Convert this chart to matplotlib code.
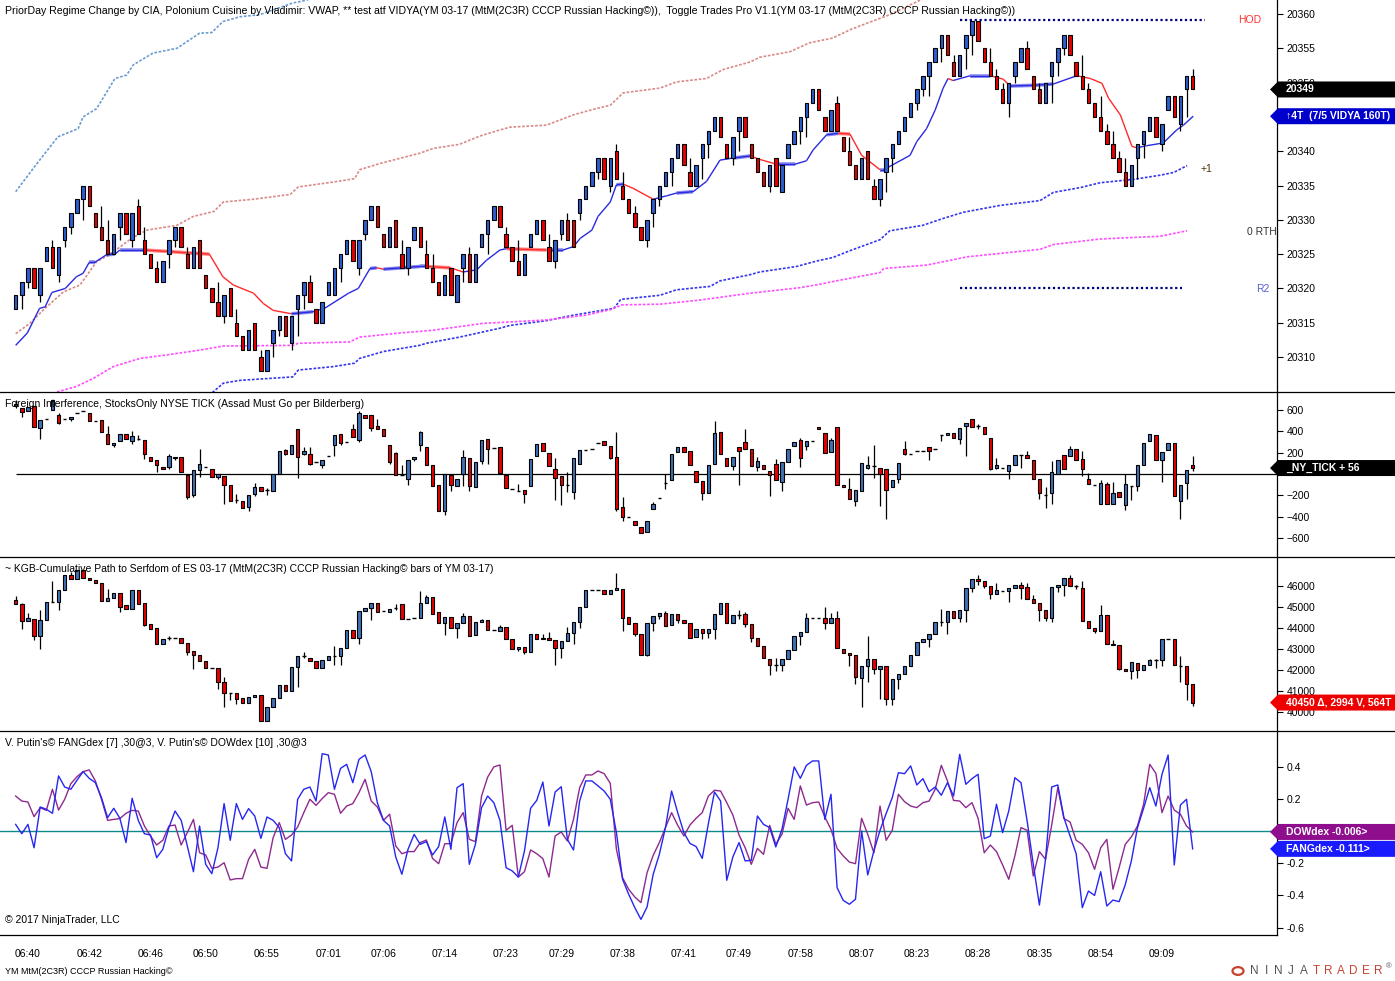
import numpy as np
import matplotlib
matplotlib.use("Agg")
import matplotlib.pyplot as plt
from matplotlib.collections import LineCollection
from matplotlib.patches import Polygon, Circle
from matplotlib.lines import Line2D

plt.rcParams['font.family'] = ['Liberation Sans', 'DejaVu Sans']

W, H = 1395, 981
AX_R = 1277          # right edge of the plot area (px)
X0, X1 = -2.556, 205.76

# ---------------- price panel (YM 03-17) ----------------
p_open = [
    20317, 20319, 20321, 20323, 20319, 20324, 20326, 20322, 20327, 20329,
    20331, 20333, 20335, 20331, 20329, 20327, 20325, 20329, 20331, 20327,
    20332, 20327, 20325, 20323, 20321, 20325, 20327, 20329, 20325, 20323,
    20327, 20322, 20320, 20318, 20316, 20320, 20315, 20313, 20311, 20315,
    20310, 20308, 20312, 20314, 20316, 20312, 20317, 20319, 20321, 20317,
    20315, 20319, 20319, 20323, 20325, 20327, 20323, 20328, 20330, 20332,
    20328, 20326, 20330, 20325, 20323, 20327, 20329, 20325, 20323, 20321,
    20319, 20323, 20318, 20323, 20325, 20321, 20326, 20328, 20330, 20332,
    20328, 20326, 20324, 20322, 20326, 20328, 20330, 20326, 20324, 20328,
    20330, 20330, 20331, 20333, 20335, 20337, 20339, 20335, 20340, 20335,
    20333, 20331, 20329, 20327, 20331, 20333, 20335, 20337, 20339, 20341,
    20337, 20335, 20339, 20341, 20343, 20345, 20341, 20339, 20343, 20345,
    20341, 20339, 20337, 20335, 20339, 20334, 20339, 20341, 20343, 20345,
    20347, 20349, 20345, 20343, 20347, 20342, 20340, 20338, 20336, 20340,
    20335, 20333, 20337, 20339, 20341, 20343, 20345, 20347, 20349, 20351,
    20353, 20355, 20357, 20353, 20351, 20355, 20357, 20359, 20355, 20353,
    20351, 20349, 20347, 20351, 20353, 20355, 20351, 20349, 20347, 20351,
    20353, 20355, 20357, 20353, 20351, 20349, 20347, 20345, 20343, 20341,
    20339, 20337, 20335, 20339, 20341, 20343, 20345, 20341, 20346, 20348,
    20344, 20349, 20351]
p_close = [
    20319, 20321, 20323, 20320, 20323, 20326, 20323, 20326, 20329, 20331,
    20333, 20335, 20332, 20329, 20327, 20325, 20328, 20331, 20328, 20331,
    20328, 20325, 20323, 20321, 20324, 20327, 20329, 20326, 20323, 20326,
    20323, 20320, 20318, 20316, 20319, 20316, 20313, 20311, 20314, 20311,
    20308, 20311, 20314, 20316, 20313, 20316, 20319, 20321, 20318, 20315,
    20318, 20321, 20323, 20325, 20327, 20324, 20327, 20330, 20332, 20329,
    20326, 20329, 20326, 20323, 20326, 20329, 20326, 20323, 20321, 20319,
    20322, 20319, 20322, 20325, 20321, 20325, 20328, 20330, 20332, 20329,
    20326, 20324, 20322, 20325, 20328, 20330, 20327, 20324, 20327, 20330,
    20327, 20326, 20333, 20335, 20337, 20339, 20336, 20339, 20336, 20333,
    20331, 20329, 20327, 20330, 20333, 20335, 20337, 20339, 20341, 20338,
    20335, 20338, 20341, 20343, 20345, 20342, 20339, 20342, 20345, 20342,
    20339, 20337, 20335, 20338, 20335, 20338, 20341, 20343, 20345, 20347,
    20349, 20346, 20343, 20346, 20343, 20340, 20338, 20336, 20339, 20336,
    20333, 20336, 20339, 20341, 20343, 20345, 20347, 20349, 20351, 20353,
    20355, 20357, 20354, 20351, 20354, 20357, 20359, 20356, 20353, 20351,
    20349, 20347, 20350, 20353, 20355, 20352, 20349, 20347, 20350, 20353,
    20355, 20357, 20354, 20351, 20349, 20347, 20345, 20343, 20341, 20339,
    20337, 20335, 20338, 20341, 20343, 20345, 20342, 20344, 20348, 20345,
    20348, 20351, 20349]
p_high = [
    20319, 20321, 20323, 20323, 20323, 20326, 20327, 20326, 20329, 20331,
    20333, 20335, 20335, 20331, 20332, 20330, 20328, 20331, 20331, 20331,
    20333, 20329, 20325, 20324, 20324, 20327, 20329, 20329, 20326, 20326,
    20327, 20322, 20320, 20321, 20319, 20320, 20317, 20313, 20314, 20315,
    20311, 20311, 20314, 20316, 20316, 20316, 20319, 20321, 20322, 20317,
    20318, 20321, 20323, 20325, 20327, 20327, 20327, 20330, 20332, 20332,
    20328, 20329, 20330, 20327, 20326, 20329, 20329, 20327, 20325, 20321,
    20322, 20323, 20322, 20325, 20326, 20325, 20328, 20330, 20332, 20332,
    20329, 20326, 20327, 20325, 20328, 20330, 20330, 20328, 20327, 20330,
    20331, 20330, 20333, 20335, 20337, 20339, 20339, 20339, 20341, 20337,
    20333, 20332, 20329, 20330, 20333, 20335, 20337, 20339, 20341, 20341,
    20339, 20338, 20341, 20343, 20345, 20345, 20341, 20342, 20345, 20345,
    20341, 20339, 20337, 20338, 20339, 20338, 20341, 20343, 20345, 20347,
    20349, 20349, 20345, 20346, 20348, 20342, 20342, 20338, 20339, 20340,
    20336, 20336, 20339, 20341, 20343, 20345, 20347, 20349, 20351, 20353,
    20355, 20357, 20357, 20354, 20354, 20357, 20359, 20359, 20355, 20355,
    20352, 20350, 20350, 20353, 20355, 20356, 20351, 20350, 20350, 20353,
    20355, 20357, 20357, 20353, 20354, 20350, 20347, 20348, 20344, 20343,
    20340, 20339, 20338, 20341, 20343, 20345, 20345, 20344, 20348, 20348,
    20348, 20351, 20352]
p_low = [
    20317, 20317, 20320, 20320, 20318, 20324, 20323, 20321, 20326, 20328,
    20331, 20330, 20332, 20329, 20327, 20325, 20325, 20327, 20328, 20326,
    20328, 20325, 20323, 20321, 20321, 20323, 20326, 20326, 20323, 20323,
    20323, 20320, 20318, 20316, 20315, 20316, 20313, 20311, 20311, 20311,
    20308, 20308, 20310, 20313, 20313, 20311, 20313, 20317, 20318, 20315,
    20315, 20319, 20319, 20321, 20325, 20324, 20322, 20327, 20330, 20329,
    20326, 20326, 20326, 20323, 20322, 20327, 20326, 20323, 20321, 20319,
    20319, 20319, 20318, 20321, 20321, 20321, 20326, 20325, 20330, 20329,
    20326, 20324, 20322, 20322, 20326, 20328, 20327, 20324, 20323, 20327,
    20327, 20326, 20330, 20333, 20335, 20336, 20336, 20334, 20336, 20333,
    20331, 20329, 20327, 20326, 20329, 20332, 20335, 20335, 20339, 20338,
    20335, 20335, 20336, 20339, 20343, 20342, 20339, 20338, 20340, 20342,
    20339, 20337, 20335, 20334, 20335, 20334, 20339, 20341, 20341, 20342,
    20347, 20346, 20343, 20343, 20343, 20340, 20338, 20336, 20336, 20336,
    20333, 20332, 20334, 20337, 20341, 20343, 20345, 20346, 20348, 20348,
    20353, 20353, 20354, 20351, 20351, 20352, 20354, 20356, 20353, 20351,
    20349, 20347, 20345, 20350, 20353, 20352, 20349, 20347, 20347, 20347,
    20351, 20354, 20354, 20351, 20349, 20347, 20345, 20343, 20341, 20339,
    20337, 20335, 20335, 20336, 20339, 20343, 20342, 20340, 20346, 20345,
    20343, 20345, 20349]

# VIDYA line vertices (bar, price)
vidya_pts = [
    (0, 20311.7), (1.9, 20313.5), (3.9, 20317.1), (4.8, 20317.3), (5.9, 20319.4),
    (8.1, 20320.0), (9.9, 20321.7), (11, 20322.2), (12, 20323.8), (12.9, 20323.8),
    (14.8, 20324.9), (16.2, 20325.0), (17, 20325.6), (20.8, 20325.6), (24.6, 20325.4),
    (27.8, 20325.2), (31.6, 20325.0), (33.8, 20321.7), (35.5, 20320.5), (38.8, 20319.3),
    (40.4, 20317.8), (42, 20316.8), (45, 20316.3), (48.5, 20316.6), (50.4, 20317.1),
    (54.3, 20319.3), (55.9, 20320.0), (57.8, 20322.9), (58.9, 20323.0), (60, 20322.8),
    (66, 20323.2), (67, 20323.2), (70.9, 20323.0), (73, 20322.4), (75.2, 20322.7),
    (76.8, 20324.1), (79, 20325.6), (80.1, 20325.8), (82.8, 20325.7), (86.6, 20325.6),
    (89.3, 20325.6), (91, 20326.1), (92.1, 20327.3), (94, 20328.5), (95, 20330.5),
    (97, 20332.6), (98, 20335.1), (99.1, 20335.2), (100.7, 20334.6), (104, 20333.0),
    (106.2, 20333.5), (107.8, 20333.9), (110.5, 20334.1), (112.7, 20335.6), (114.9, 20338.7),
    (117, 20339.0), (119.8, 20339.3), (121.4, 20338.8), (124.1, 20338.1), (127.1, 20338.1),
    (129, 20338.6), (130.1, 20340.2), (132.3, 20342.4), (134.2, 20342.6), (136.1, 20342.5),
    (138, 20339.4), (141, 20337.3), (141.6, 20337.3), (145.9, 20339.4), (147, 20341.4),
    (148.6, 20343.3), (150, 20346.0), (151.3, 20349.2), (152.1, 20350.6), (152.9, 20350.3),
    (155.7, 20351.0), (159, 20351.0), (161.1, 20350.5), (162.2, 20349.5), (166, 20349.6),
    (169.3, 20349.8), (173.1, 20351.0), (175.3, 20350.6), (177.2, 20349.9), (178.3, 20347.7),
    (180.2, 20345.3), (182.1, 20340.7), (182.9, 20340.5), (184.5, 20340.8), (187.2, 20341.2),
    (189.4, 20343.1), (190.5, 20343.8), (192.1, 20345.1)]

# VWAP bands (dotted)
band_upper3 = [
    (0, 20334.1), (3.9, 20338.7), (6.9, 20342.1), (10.2, 20343.3), (11, 20345.0),
    (13.2, 20346.2), (16.2, 20350.6), (18.1, 20351.1), (19.2, 20352.6), (22.4, 20354.3),
    (26.3, 20355.0), (30, 20357.2), (32, 20357.3), (33.8, 20358.9), (36.6, 20359.6),
    (39.8, 20359.9), (45.2, 20361.6), (47.4, 20362.0), (50, 20363.0)]
band_upper2 = [
    (0, 20313.4), (2.3, 20314.9), (4.8, 20317.1), (7.8, 20319.5), (10.5, 20320.5),
    (13.2, 20323.9), (15.3, 20324.9), (18.9, 20327.3), (21.4, 20328.5), (26.3, 20329.2),
    (29, 20330.5), (32.3, 20331.2), (33.9, 20332.6), (38.8, 20333.0), (44.8, 20333.7),
    (46.1, 20334.8), (51.8, 20335.5), (55.3, 20336.0), (56.1, 20337.3), (59.4, 20338.2),
    (65.9, 20339.7), (68.1, 20340.4), (72.4, 20341.0), (75.7, 20342.2), (79, 20343.1),
    (80.6, 20343.5), (86.6, 20343.8), (91, 20345.3), (94.2, 20346.1), (97, 20346.7),
    (99.1, 20348.5), (105.1, 20349.2), (107.8, 20350.1), (112.7, 20350.6), (115.4, 20351.9),
    (119.8, 20353.0), (121.4, 20353.7), (126.3, 20354.5), (129.5, 20355.8), (133.3, 20356.5),
    (136.1, 20357.7), (139.9, 20359.0), (142.6, 20359.9), (147.5, 20362.0), (150, 20363.0)]
band_vwap = [
    (31, 20304.0), (32.2, 20304.9), (33.9, 20306.2), (36.6, 20306.6), (45.2, 20307.1),
    (46.1, 20308.1), (51.8, 20308.6), (55.3, 20309.1), (56.1, 20309.8), (60, 20310.8),
    (65.9, 20311.7), (67, 20312.0), (72.4, 20312.9), (79, 20314.2), (80.6, 20314.6),
    (86.6, 20315.3), (91, 20316.1), (97.6, 20317.1), (98.7, 20318.4), (105.1, 20319.0),
    (107.8, 20319.8), (113.3, 20320.3), (114.9, 20321.1), (119.8, 20322.0), (121.4, 20322.4),
    (127.4, 20323.2), (130.7, 20324.0), (133.3, 20324.5), (136.1, 20325.5), (141, 20327.1),
    (142.6, 20328.4), (148, 20329.2), (151.3, 20330.2), (154.6, 20331.1), (160.6, 20332.1),
    (167.1, 20332.8), (169.3, 20334.0), (173.7, 20334.7), (176.9, 20335.4), (182.4, 20335.9),
    (186.7, 20336.5), (188.9, 20336.9), (191.1, 20337.9)]
band_lower = [
    (5.5, 20304.3), (6.7, 20304.9), (9.9, 20305.7), (12.7, 20306.9), (15.9, 20308.6),
    (20.3, 20309.8), (24.6, 20310.3), (30, 20311.0), (33.9, 20311.6), (45.2, 20311.7),
    (46.1, 20312.0), (54.5, 20312.2), (56.1, 20312.9), (62.7, 20313.5), (68.1, 20313.9),
    (76.2, 20314.9), (86.6, 20315.4), (93, 20316.1), (97, 20316.9), (98.9, 20317.6),
    (105.1, 20317.7), (111.6, 20318.3), (119.8, 20319.3), (127.9, 20320.1), (131.2, 20320.6),
    (133.3, 20321.0), (141, 20322.3), (141.6, 20322.9), (148.6, 20323.4), (155.2, 20324.6),
    (167.1, 20325.7), (169.3, 20326.4), (176.9, 20327.2), (186.7, 20327.6), (191.1, 20328.4)]

hod_level, hod_span = 20359.1, (154, 194)
r2_level, r2_span = 20320.0, (154, 190.3)

# ---------------- NYSE TICK panel ----------------
t_open = [
    640, 619, 588, 638, 431, 512, 597, 556, 519, 512,
    575, 591, 575, 497, 503, 378, 269, 306, 378, 309,
    331, 316, 159, 128, 66, 66, 150, 159, -6, -200,
    34, 66, 44, -28, -22, -100, -247, -253, -309, -184,
    -122, -153, -162, 3, 222, 191, 425, 191, 191, 112,
    88, 169, 275, 378, 300, 425, 316, 556, 550, 450,
    425, 269, 197, -6, -50, 144, 269, 253, 81, -106,
    -347, -12, -112, 3, 150, -122, 119, 325, 244, 253,
    -6, -137, -159, -153, -116, 166, 291, 200, 44, -19,
    -100, -169, 91, 222, 231, 291, 306, 263, 156, -309,
    -406, -444, -497, -544, -331, -225, -81, -59, 203, 253,
    213, 25, -69, -178, 97, 394, 150, 72, 253, 300,
    238, 66, 88, 25, 97, -75, 112, 259, 316, 259,
    309, 441, 384, 203, 441, -100, -137, -256, -159, 59,
    72, 59, 50, -122, -44, 231, 188, 212, 219, 253,
    231, 363, 369, 388, 325, 447, 519, 447, 441, 341,
    59, 53, 25, 81, 175, 178, 128, -44, -194, -178,
    3, 181, 169, 231, 138, -50, -106, -284, -91, -278,
    -169, -288, -116, -112, 81, 306, 363, 128, 222, 294,
    -256, -81, 81]
t_close = [
    660, 581, 628, 441, 503, 512, 690, 481, 519, 534,
    575, 591, 497, 497, 394, 284, 294, 378, 331, 356,
    331, 184, 122, 81, 44, 169, 156, 19, -216, 34,
    97, 66, -28, 3, -106, -253, -247, -319, -194, -122,
    -162, -153, 3, 213, 191, 269, 159, 213, 97, 112,
    128, 169, 369, 294, 300, 344, 575, 525, 431, 425,
    356, 112, -12, -6, 128, 159, 394, 88, -112, -347,
    3, -106, -44, 159, -112, 112, 316, 231, 244, 12,
    -128, -137, -159, -191, 144, 278, 212, 72, -38, -106,
    -100, 150, 222, 222, 231, 291, 269, 153, -325, -403,
    -406, -475, -550, -444, -278, -225, -81, 191, 253, 206,
    88, -75, -178, 81, 384, 184, 75, 159, 216, 238,
    75, 119, 50, -6, -59, 112, 231, 300, 150, 306,
    309, 419, 197, 316, -106, -122, -231, -147, 103, 81,
    72, -3, -153, -59, 106, 191, 188, 212, 219, 212,
    231, 363, 388, 341, 431, 481, 441, 447, 372, 50,
    81, 53, 81, 175, 175, 153, -50, -178, -194, 19,
    128, 44, 231, 134, 44, -91, -106, -84, -278, -178,
    -216, -97, -116, 81, 291, 372, 134, 206, 294, -209,
    -100, 34, 56]
t_high = [
    690, 619, 628, 638, 503, 512, 690, 570, 519, 534,
    575, 591, 575, 497, 503, 450, 294, 378, 378, 400,
    369, 316, 159, 128, 66, 191, 156, 159, -6, 34,
    231, 66, 44, 3, -22, -100, -184, -253, -194, -84,
    -122, -131, 3, 213, 238, 269, 425, 253, 253, 112,
    128, 169, 369, 378, 300, 466, 591, 556, 550, 519,
    425, 269, 206, 81, 128, 159, 400, 253, 81, -106,
    3, -12, -44, 222, 150, 112, 316, 325, 244, 253,
    -6, -137, -91, -153, 144, 278, 291, 200, 150, -19,
    19, 150, 222, 222, 231, 291, 306, 263, 394, -219,
    -406, -444, -497, -444, -262, -225, 3, 191, 253, 253,
    213, 25, -69, 81, 494, 394, 150, 159, 253, 419,
    238, 159, 88, 25, 144, 112, 231, 300, 338, 306,
    309, 441, 384, 338, 441, -100, -38, -147, 103, 166,
    275, 59, 50, -59, 106, 306, 188, 212, 219, 253,
    231, 363, 388, 388, 431, 481, 519, 472, 441, 341,
    150, 53, 81, 175, 175, 213, 128, -44, -122, 119,
    128, 181, 263, 231, 213, 9, -106, -53, -75, -75,
    -169, 3, -116, 81, 291, 372, 363, 206, 294, 294,
    -100, 34, 166]
t_low = [
    620, 534, 588, 441, 331, 512, 597, 470, 519, 497,
    575, 591, 497, 497, 394, 284, 253, 306, 331, 278,
    316, 144, 122, 19, 44, 44, 128, 19, -231, -216,
    -28, 66, -28, -50, -278, -253, -269, -319, -350, -206,
    -162, -200, -162, 3, 175, 191, -38, 175, 81, 112,
    56, 169, 169, 269, 300, 344, 300, 525, 400, 425,
    356, 97, -12, -12, -106, 119, 212, 88, -112, -347,
    -381, -162, -112, -112, -159, -122, 97, 97, 244, 12,
    -128, -137, -159, -269, -116, 166, 212, 72, -247, -288,
    -169, -231, 91, 222, 231, 291, 269, 138, -350, -444,
    -406, -475, -550, -544, -331, -225, -138, -59, 203, 206,
    81, -75, -247, -178, 97, 184, 75, 34, -106, 238,
    75, 25, 50, -209, -59, -162, 112, 259, 66, 222,
    309, 419, 197, 203, -106, -122, -231, -303, -159, 50,
    -38, -303, -425, -122, -84, 181, 188, 212, 219, 134,
    231, 306, 369, 341, 278, 166, 441, 425, 372, 34,
    44, 53, -50, 81, 56, 153, -50, -238, -316, -278,
    3, 44, 169, 128, -22, -91, -106, -284, -278, -278,
    -216, -334, -247, -162, 81, 306, 134, -75, 222, -209,
    -425, -231, 25]

# ---------------- cumulative panel ----------------
c_open = [
    45318, 45159, 44318, 44444, 43604, 44365, 45238, 45238, 45794, 46540,
    46349, 46746, 46381, 46270, 46159, 45286, 45429, 45667, 45079, 44889,
    45794, 45190, 44175, 44000, 43254, 43540, 43540, 43540, 43302, 42905,
    42699, 42413, 42096, 42096, 41429, 40921, 40921, 40667, 40445, 40715,
    40794, 39572, 40239, 40667, 41270, 40985, 42143, 42651, 42588, 42413,
    42096, 42461, 42651, 42651, 43048, 43889, 43540, 44810, 44968, 45206,
    44810, 44762, 44953, 45159, 44445, 44476, 44476, 45190, 45476, 44762,
    44238, 44524, 44000, 44238, 44556, 43651, 44286, 44365, 43889, 43841,
    44032, 43492, 42985, 43096, 42857, 43699, 43461, 43540, 43413, 43064,
    43365, 43778, 44286, 45000, 45794, 45825, 45825, 45603, 45825, 45873,
    44524, 44238, 43699, 42699, 44238, 44572, 44730, 44159, 44651, 44397,
    44238, 43572, 43969, 43778, 43969, 44651, 45206, 44238, 44635, 44683,
    44175, 43540, 43127, 42540, 42223, 42223, 42508, 42969, 43604, 43810,
    44492, 44492, 44492, 44238, 44492, 43016, 42826, 42699, 41636, 42191,
    42540, 42032, 42175, 40636, 41556, 41794, 42175, 42699, 43334, 43461,
    43699, 44286, 44286, 44794, 44492, 44841, 45921, 46317, 46222, 45984,
    45603, 45762, 45746, 45921, 46063, 45952, 45397, 45206, 44841, 44492,
    45952, 46032, 46397, 45984, 45921, 44318, 44000, 43842, 44603, 43254,
    43175, 42032, 41937, 42350, 41985, 42223, 42461, 42461, 43492, 43492,
    42191, 42175, 41318]
c_close = [
    45127, 44318, 44476, 43604, 44365, 45238, 45238, 45794, 46540, 46317,
    46746, 46381, 46270, 46159, 45286, 45429, 45667, 45000, 44889, 45794,
    45159, 44159, 43969, 43254, 43492, 43540, 43540, 43302, 42857, 42699,
    42413, 42096, 42096, 41429, 40921, 40921, 40636, 40445, 40715, 40794,
    39572, 40239, 40667, 41270, 40985, 42143, 42651, 42651, 42413, 42096,
    42461, 42651, 42651, 43048, 43889, 43540, 44810, 44968, 45206, 44762,
    44810, 44921, 44953, 44445, 44445, 44476, 45190, 45476, 44683, 44238,
    44524, 44000, 44238, 44572, 43619, 44286, 44365, 43889, 43889, 44048,
    43492, 42985, 43096, 42857, 43699, 43461, 43540, 43413, 43064, 43365,
    43778, 44286, 45000, 45794, 45794, 45825, 45603, 45825, 45905, 44492,
    44206, 43699, 42699, 44238, 44556, 44714, 44080, 44683, 44397, 44238,
    43524, 43969, 43778, 43969, 44651, 45206, 44238, 44603, 44635, 44175,
    43540, 43127, 42572, 42223, 42223, 42508, 42969, 43604, 43810, 44492,
    44492, 44492, 44238, 44492, 43048, 42826, 42699, 41667, 42191, 42540,
    42064, 42191, 40636, 41556, 41794, 42175, 42699, 43334, 43461, 43699,
    44286, 44286, 44794, 44492, 44841, 45921, 46317, 46222, 45984, 45603,
    45794, 45762, 45921, 46063, 45921, 45397, 45206, 44841, 44492, 45952,
    46032, 46397, 46000, 45984, 44318, 44000, 43842, 44603, 43254, 43175,
    42032, 41937, 42381, 41985, 42223, 42461, 42461, 43461, 43492, 42223,
    42191, 41318, 40450]
c_high = [
    45524, 45206, 44730, 44444, 44841, 45238, 46222, 45794, 46540, 46667,
    46746, 46746, 46381, 46270, 46159, 45841, 45667, 45667, 45079, 45794,
    45794, 45190, 44175, 44000, 43492, 43604, 43540, 43540, 43302, 42905,
    42699, 42413, 42096, 42096, 41667, 40921, 40921, 40667, 40715, 40794,
    40794, 40239, 40667, 41270, 41270, 42143, 42651, 42857, 42588, 42413,
    42461, 42651, 43127, 43048, 43889, 43889, 44810, 44968, 45206, 45206,
    44810, 44921, 45159, 45159, 44445, 44476, 45746, 45556, 45476, 44762,
    44524, 44524, 44238, 44730, 44556, 44286, 44413, 44365, 43889, 44127,
    44032, 43492, 43096, 43096, 43699, 43699, 43730, 43810, 43413, 43365,
    44048, 44286, 45000, 45794, 45794, 45825, 45825, 45825, 46619, 45873,
    44524, 44238, 43699, 44238, 44556, 44714, 44794, 44683, 44651, 44397,
    44238, 43969, 43969, 43969, 44651, 45206, 45206, 44603, 44841, 44762,
    44175, 43540, 43127, 42540, 42588, 42508, 42969, 43604, 43810, 44715,
    44492, 44492, 45000, 44715, 44810, 43016, 42826, 42699, 42191, 43604,
    42540, 42191, 42175, 41556, 41794, 42175, 42699, 43334, 43461, 43699,
    44286, 44921, 44794, 44794, 44841, 45921, 46317, 46508, 46222, 45984,
    46159, 45762, 45921, 46063, 46190, 46159, 45556, 45206, 44841, 45952,
    46032, 46397, 46540, 46063, 46222, 44318, 44000, 45111, 44603, 43413,
    43175, 42032, 42381, 42350, 42223, 42540, 42540, 43461, 43492, 43492,
    42651, 42175, 41318]
c_low = [
    45127, 43969, 44318, 43413, 43016, 44365, 45238, 44841, 45794, 46317,
    46349, 46381, 46270, 46159, 45286, 45286, 45429, 44762, 44889, 44889,
    45159, 44080, 43969, 43254, 43254, 43413, 43540, 43302, 42699, 42032,
    42413, 42096, 42096, 41112, 40239, 40556, 40398, 40445, 40445, 40715,
    39572, 39572, 40239, 40667, 40985, 40985, 41191, 42572, 42413, 42096,
    42096, 42461, 42223, 42255, 43048, 43540, 43223, 44810, 44365, 44762,
    44810, 44762, 44841, 44445, 44445, 44476, 44476, 45190, 44683, 44238,
    43651, 44000, 43540, 44238, 43619, 43651, 44286, 43889, 43889, 43841,
    43461, 42985, 42889, 42746, 42857, 43461, 43461, 43413, 42255, 42588,
    43365, 43254, 44016, 45000, 45794, 45825, 45603, 45603, 45825, 43857,
    44206, 43603, 42699, 42651, 43857, 44413, 44080, 44159, 44254, 44238,
    43524, 43572, 43492, 43524, 43492, 44651, 44238, 44238, 44445, 44048,
    43334, 43127, 42572, 41747, 41953, 41937, 42508, 42969, 43207, 43810,
    44492, 44492, 43969, 44238, 43048, 42826, 42175, 41318, 40239, 41429,
    41826, 40636, 40318, 40318, 41080, 41794, 42175, 42699, 43334, 43096,
    43699, 44096, 43730, 44492, 44286, 44286, 45714, 46032, 45905, 45365,
    45603, 45762, 45238, 45921, 45397, 45397, 45206, 44318, 44318, 44286,
    45714, 45524, 46000, 45873, 44318, 44000, 43762, 43842, 43223, 43175,
    41985, 41937, 41588, 41636, 41985, 42223, 42096, 42191, 43492, 42223,
    41429, 40556, 40270]

# ---------------- oscillator panel ----------------
fangdex = [
    0.041, -0.017, 0.041, -0.104, 0.149, 0.135, 0.110, 0.342, 0.273, 0.259,
    0.315, 0.369, 0.327, 0.300, 0.207, 0.083, 0.141, 0.079, -0.072, 0.203,
    0.066, -0.017, -0.025, -0.166, -0.114, 0.021, 0.124, 0.066, -0.093, -0.253,
    0.031, -0.207, -0.265, -0.104, 0.170, -0.058, 0.170, 0.072, 0.139, 0.093,
    -0.046, 0.087, 0.066, 0.021, -0.141, -0.186, 0.197, 0.259, 0.273, 0.186,
    0.480, 0.472, 0.259, 0.389, 0.414, 0.300, 0.445, 0.472, 0.369, 0.176,
    0.066, 0.031, -0.161, -0.269, -0.114, -0.021, -0.083, -0.066, -0.149, -0.097,
    0.087, -0.114, 0.269, 0.294, -0.207, -0.083, 0.145, 0.217, 0.176, 0.066,
    -0.228, -0.248, -0.286, -0.124, 0.141, 0.190, 0.304, 0.031, 0.242, 0.275,
    -0.052, -0.118, 0.186, 0.311, 0.311, 0.280, 0.248, 0.197, -0.010, -0.300,
    -0.393, -0.476, -0.549, -0.472, -0.269, -0.145, 0.021, 0.248, 0.114, -0.010,
    -0.077, -0.097, -0.170, 0.046, 0.242, 0.186, -0.306, -0.161, -0.072, -0.186,
    -0.182, 0.093, 0.041, 0.021, -0.099, 0.010, 0.197, 0.398, 0.327, 0.408,
    0.435, 0.435, 0.072, 0.228, -0.352, -0.431, -0.455, -0.424, 0.000, -0.273,
    -0.124, 0.004, 0.108, 0.207, 0.362, 0.356, 0.404, 0.286, 0.325, 0.244,
    0.273, 0.222, 0.300, 0.217, 0.476, 0.290, 0.325, 0.352, -0.048, -0.031,
    0.166, -0.010, 0.124, 0.331, 0.300, 0.062, -0.207, -0.460, -0.176, 0.273,
    0.286, 0.083, -0.031, -0.141, -0.476, -0.373, -0.400, -0.253, -0.466, -0.429,
    -0.439, -0.335, -0.186, 0.021, 0.141, 0.269, 0.155, 0.352, 0.472, -0.211,
    0.161, 0.197, -0.111]
dowdex = [
    0.217, 0.186, 0.180, 0.089, 0.145, 0.128, 0.259, 0.130, 0.197, 0.294,
    0.337, 0.369, 0.379, 0.311, 0.197, 0.066, 0.072, 0.077, 0.110, 0.128,
    0.124, 0.031, -0.031, -0.087, -0.058, 0.031, 0.037, -0.087, -0.010, 0.072,
    -0.135, -0.149, -0.232, -0.224, -0.197, -0.304, -0.296, -0.296, -0.176, -0.114,
    -0.224, -0.232, -0.041, 0.052, -0.052, -0.025, 0.025, 0.114, 0.197, 0.159,
    0.201, 0.238, 0.228, 0.110, 0.155, 0.170, 0.238, 0.321, 0.186, 0.149,
    0.066, 0.104, -0.093, -0.141, -0.128, -0.128, -0.072, -0.056, -0.170, -0.203,
    -0.079, -0.079, 0.052, 0.114, -0.052, -0.066, 0.217, 0.335, 0.398, 0.410,
    0.004, 0.035, -0.286, -0.253, -0.118, -0.141, -0.172, -0.286, -0.031, -0.006,
    -0.062, 0.072, 0.269, 0.348, 0.348, 0.373, 0.356, 0.296, -0.114, -0.290,
    -0.362, -0.410, -0.445, -0.259, -0.151, -0.072, 0.021, 0.114, 0.035, -0.031,
    0.037, 0.079, 0.114, 0.217, 0.253, 0.248, 0.176, 0.099, -0.025, -0.104,
    -0.207, -0.108, -0.145, 0.035, -0.083, -0.021, 0.141, 0.072, 0.280, 0.161,
    0.176, 0.180, 0.087, 0.010, -0.108, -0.155, -0.193, -0.203, 0.079, -0.021,
    -0.135, 0.155, -0.058, 0.004, 0.228, 0.182, 0.155, 0.145, 0.176, 0.186,
    0.259, 0.408, 0.311, 0.190, 0.186, 0.145, 0.176, 0.079, -0.135, -0.087,
    -0.128, -0.211, -0.300, -0.155, 0.021, 0.004, -0.280, -0.128, -0.176, 0.035,
    0.269, 0.077, 0.056, -0.058, -0.083, -0.135, -0.238, -0.104, -0.052, -0.362,
    -0.228, -0.083, -0.037, 0.031, 0.166, 0.414, 0.358, 0.114, 0.217, 0.130,
    0.104, 0.031, -0.006]

time_idx = [2, 12, 22, 31, 41, 51, 60, 70, 80, 89, 99, 109, 118, 128, 138, 147, 157, 167, 177, 187]
time_lbl = ['06:40', '06:42', '06:46', '06:50', '06:55', '07:01', '07:06', '07:14', '07:23', '07:29',
            '07:38', '07:41', '07:49', '07:58', '08:07', '08:23', '08:28', '08:35', '08:54', '09:09']

fig = plt.figure(figsize=(W / 100, H / 100), dpi=100)


def panel(y0, y1, ylim):
    ax = fig.add_axes([0, 1 - y1 / H, AX_R / W, (y1 - y0) / H])
    for s in ['top', 'left', 'bottom']:
        ax.spines[s].set_visible(False)
    ax.spines['right'].set_linewidth(0.9)
    ax.yaxis.tick_right()
    ax.tick_params(axis='y', direction='out', length=4, width=0.8, labelsize=7.5, pad=3)
    ax.set_xticks([])
    ax.set_xlim(X0, X1)
    ax.set_ylim(*ylim)
    return ax


def candles(ax, o, h, l, c, up, dn, width=0.56):
    o, h, l, c = map(np.asarray, (o, h, l, c))
    x = np.arange(len(o))
    ax.vlines(x, l, h, color='black', lw=0.9, zorder=3)
    body = np.abs(c - o)
    flat = body == 0
    cols = np.where(c > o, up, dn)
    ax.bar(x[~flat], body[~flat], bottom=np.minimum(o, c)[~flat], width=width,
           color=cols[~flat], edgecolor='black', linewidth=0.8, zorder=4)
    ax.hlines(o[flat], x[flat] - width / 2, x[flat] + width / 2, color='black', lw=1.0, zorder=4)


def flag(ax, yv, text, face):
    y0, y1 = ax.get_ylim()
    hu = 8 * (y1 - y0) / ax.bbox.height
    tr = ax.get_yaxis_transform()
    tip, b, e = 1270 / AX_R, 1278 / AX_R, 1396 / AX_R
    ax.add_patch(Polygon([(tip, yv), (b, yv + hu), (e, yv + hu), (e, yv - hu), (b, yv - hu)],
                         closed=True, transform=tr, facecolor=face, edgecolor='none',
                         clip_on=False, zorder=10))
    ax.text(1286 / AX_R, yv, text, transform=tr, color='white', fontsize=7.5, fontweight='bold',
            va='center', ha='left', clip_on=False, zorder=11)


def ftext(x, y, s, **kw):
    kw.setdefault('ha', 'left')
    fig.text(x / W, 1 - y / H, s, va='center', **kw)


# ---- panel 1 ----
ax1 = panel(0, 392, (20304.9, 20362.04))
ax1.set_yticks(range(20310, 20361, 5))
for pts, col in [(band_upper3, '#6b9bd0'), (band_upper2, '#d98a88'),
                 (band_vwap, '#3535ee'), (band_lower, '#ff4dff')]:
    a = np.array(pts)
    ax1.plot(a[:, 0], a[:, 1], color=col, lw=1.2, ls=(0, (1.6, 1.0)), zorder=2)
va = np.array(vidya_pts)
segs = np.stack([va[:-1], va[1:]], axis=1)
slope = np.diff(va[:, 1]) / np.diff(va[:, 0])
seg_cols = ['#ff2a2a' if s < 0 else '#2a2ae0' for s in slope]
flat = np.abs(slope) < 0.12
ax1.add_collection(LineCollection(segs[flat], colors=np.array(seg_cols)[flat], linewidths=2.6,
                                  alpha=0.55, zorder=2))
ax1.add_collection(LineCollection(segs, colors=seg_cols, linewidths=1.0, zorder=2))
candles(ax1, p_open, p_high, p_low, p_close, '#2d5fd0', '#e80000')
ax1.hlines(hod_level, *hod_span, color='#000080', lw=1.6, ls=(0, (1, 1.2)), zorder=3)
ax1.hlines(r2_level, *r2_span, color='#000080', lw=1.6, ls=(0, (1, 1.2)), zorder=3)
flag(ax1, 20349, '20349', 'black')
flag(ax1, va[-1, 1], '\u21914T  (7/5 VIDYA 160T)', '#0000cc')

ftext(5, 11, 'PriorDay Regime Change by CIA, Polonium Cuisine by Vladimir: VWAP, ** test atf VIDYA(YM 03-17 '
      '(MtM(2C3R) CCCP Russian Hacking\u00a9)),  Toggle Trades Pro V1.1(YM 03-17 (MtM(2C3R) CCCP Russian '
      'Hacking\u00a9))', fontsize=7.6, zorder=20)
ftext(1238, 20, 'HOD', fontsize=7.5, color='#ff3030')
ftext(1247, 232, '0 RTH', fontsize=7.5, color='#333333')
ftext(1256, 289, 'R2', fontsize=7.5, color='#5a5ad0')
ftext(1201, 169, '+1', fontsize=7.5, color='#4d3300')

# ---- panel 2 ----
ax2 = panel(392, 557, (-778, 769))
ax2.set_yticks([-600, -400, -200, 200, 400, 600])
ax2.hlines(0, 0, X1, color='black', lw=0.9, zorder=2)
candles(ax2, t_open, t_high, t_low, t_close, '#3f72b5', '#e80000')
flag(ax2, t_close[-1], '_NY_TICK + %d' % t_close[-1], 'black')
ftext(5, 404, 'Foreign Interference, StocksOnly NYSE TICK (Assad Must Go per Bilderberg)', fontsize=7.5)

# ---- panel 3 ----
ax3 = panel(557, 731, (39095, 47381))
ax3.set_yticks(range(40000, 46001, 1000))
candles(ax3, c_open, c_high, c_low, c_close, '#3f72b5', '#e80000')
flag(ax3, c_close[-1], '%d \u0394, 2994 V, 564T' % c_close[-1], '#ee0000')
ftext(5, 569, '~ KGB-Cumulative Path to Serfdom of ES 03-17 (MtM(2C3R) CCCP Russian Hacking\u00a9 bars of YM 03-17)',
      fontsize=7.5)

# ---- panel 4 ----
ax4 = panel(731, 935, (-0.646, 0.621))
ax4.spines['bottom'].set_visible(True)
ax4.spines['bottom'].set_linewidth(0.9)
ax4.set_yticks([-0.6, -0.4, -0.2, 0.2, 0.4])
ax4.set_yticklabels(['-0.6', '-0.4', '-0.2', '0.2', '0.4'])
ax4.axhline(0, color='#0f8a8a', lw=1.0, zorder=1)
xs = np.arange(len(fangdex))
ax4.plot(xs, dowdex, color='#8e2a8e', lw=1.0, zorder=2)
ax4.plot(xs, fangdex, color='#2626f2', lw=1.0, zorder=3)
flag(ax4, dowdex[-1], 'DOWdex %.3f>' % dowdex[-1], '#8e0e8e')
flag(ax4, fangdex[-1], 'FANGdex %.3f>' % fangdex[-1], '#1a1aff')
ax4.set_xticks(time_idx)
ax4.set_xticklabels(time_lbl)
ax4.tick_params(axis='x', length=0, labelsize=7.5, pad=10)
ftext(5, 743, "V. Putin's\u00a9 FANGdex [7] ,30@3, V. Putin's\u00a9 DOWdex [10] ,30@3", fontsize=7.5)
ftext(5, 920, '\u00a9 2017 NinjaTrader, LLC', fontsize=7.5)

# separators
for yy in (392, 557, 731):
    fig.add_artist(Line2D([0, 1], [1 - yy / H] * 2, transform=fig.transFigure, color='black', lw=0.9))

# footer
ftext(5, 971, 'YM MtM(2C3R) CCCP Russian Hacking\u00a9', fontsize=6.5)
fig.add_artist(Circle((1238 / W, 1 - 971 / H), 5.5 / W, transform=fig.transFigure,
                      facecolor='none', edgecolor='#c8412e', lw=1.6))
for k, ch in enumerate('NINJATRADER'):
    ftext(1254 + k * 12.4, 971, ch, fontsize=8.5, ha='center',
          color='#555555' if k < 5 else '#c8412e')
ftext(1386, 967, '\u00ae', fontsize=5.5, color='#555555')

fig.savefig('out.png', dpi=100)
